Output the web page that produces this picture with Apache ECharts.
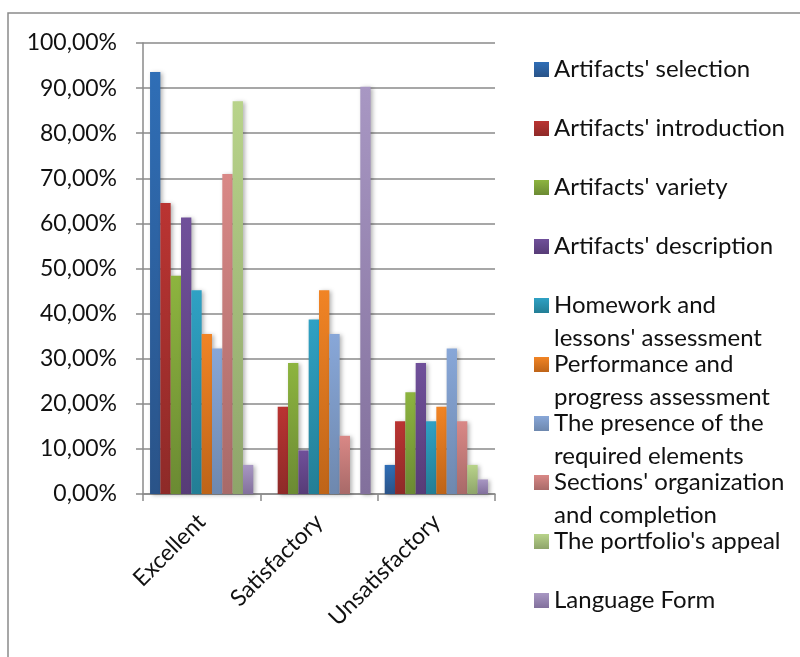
<!DOCTYPE html>
<html>
<head>
<meta charset="utf-8">
<title>Portfolio evaluation</title>
<script src="https://cdn.jsdelivr.net/npm/echarts@6/dist/echarts.min.js"></script>
<style>
  html, body { margin: 0; padding: 0; background: #fff; }
  #chart { width: 800px; height: 657px; }
</style>
</head>
<body>
<div id="chart"></div>
<script>
// categories on the x axis
const categories = ['Excellent', 'Satisfactory', 'Unsatisfactory'];

// series names (legend), \n marks where the legend wraps
const seriesNames = [
  "Artifacts' selection",
  "Artifacts' introduction",
  "Artifacts' variety",
  "Artifacts' description",
  "Homework and\nlessons' assessment",
  "Performance and\nprogress assessment",
  "The presence of the\nrequired elements",
  "Sections' organization\nand completion",
  "The portfolio's appeal",
  "Language Form"
];

// values in percent, one array per series (Excellent, Satisfactory, Unsatisfactory)
const selection    = [93.55, 0,     6.45];
const introduction = [64.52, 19.35, 16.13];
const variety      = [48.39, 29.03, 22.58];
const description  = [61.29, 9.68,  29.03];
const homework     = [45.16, 38.71, 16.13];
const performance  = [35.48, 45.16, 19.35];
const presence     = [32.26, 35.48, 32.26];
const sections     = [70.97, 12.90, 16.13];
const appeal       = [87.10, 0,     6.45];
const language     = [6.45,  90.32, 3.23];

const seriesValues = [selection, introduction, variety, description, homework,
  performance, presence, sections, appeal, language];

// y axis ticks
const yMin = 0, yMax = 100, yStep = 10;

// gradient colours: top, bottom
const colors = [
  ['#2f6eb6', '#2a5388'],
  ['#ba3432', '#8e2a28'],
  ['#8db43f', '#6b8a33'],
  ['#70509a', '#573c77'],
  ['#2fa1c4', '#237e95'],
  ['#f18425', '#be6418'],
  ['#88a7d8', '#6e88ae'],
  ['#d98886', '#a86a69'],
  ['#b8d38a', '#8ea46a'],
  ['#a897c3', '#82709c']
];

const font = 'Lato, "Open Sans", sans-serif';

const chart = echarts.init(document.getElementById('chart'));

const gradient = i => new echarts.graphic.LinearGradient(0, 0, 0, 1, [
  { offset: 0, color: colors[i][0] },
  { offset: 1, color: colors[i][1] }
]);

const series = seriesNames.map((name, i) => ({
  name: name,
  type: 'bar',
  data: seriesValues[i],
  barGap: '0%',
  barCategoryGap: '12%',
  itemStyle: {
    color: gradient(i),
    shadowColor: 'rgba(0,0,0,0.3)',
    shadowBlur: 4,
    shadowOffsetX: 2,
    shadowOffsetY: 1
  }
}));

const option = {
  animation: false,
  textStyle: { fontFamily: font },
  grid: { left: 143, right: 305, top: 43, bottom: 163, containLabel: false },
  legend: {
    orient: 'vertical',
    left: 529,
    top: 15,
    height: 900,
    itemWidth: 15,
    itemHeight: 15,
    itemGap: -40,
    icon: 'rect',
    data: seriesNames.map((name, i) => ({ name: name, itemStyle: { color: gradient(i) } })),
    // three text lines per item so the first name line sits next to the icon
    formatter: name => name.indexOf('\n') >= 0 ? '\n' + name : '\n' + name + '\n',
    textStyle: { fontSize: 24, color: '#111', lineHeight: 33, fontFamily: font }
  },
  xAxis: {
    type: 'category',
    data: categories,
    axisLine: { lineStyle: { color: '#8a8a8a', width: 1.5 } },
    axisTick: { show: true, length: 7, lineStyle: { color: '#8a8a8a', width: 1.5 } },
    axisLabel: { interval: 0, rotate: 45, margin: 24, fontSize: 23, color: '#111', fontFamily: font }
  },
  yAxis: {
    type: 'value',
    min: yMin,
    max: yMax,
    interval: yStep,
    axisLine: { show: true, lineStyle: { color: '#8a8a8a', width: 1.5 } },
    axisTick: { show: true, length: 7, lineStyle: { color: '#8a8a8a', width: 1.5 } },
    splitLine: { lineStyle: { color: '#8a8a8a', width: 1.5 } },
    axisLabel: {
      margin: 26,
      fontSize: 23,
      color: '#111',
      fontFamily: font,
      formatter: v => v.toFixed(2).replace('.', ',') + '%'
    }
  },
  graphic: [
    // chart frame (left and top edges)
    { type: 'polyline', shape: { points: [[8, 657], [8, 13], [800, 13]] },
      style: { stroke: '#8a8a8a', lineWidth: 1.5, fill: null } }
  ],
  series: series
};

chart.setOption(option);
</script>
</body>
</html>
